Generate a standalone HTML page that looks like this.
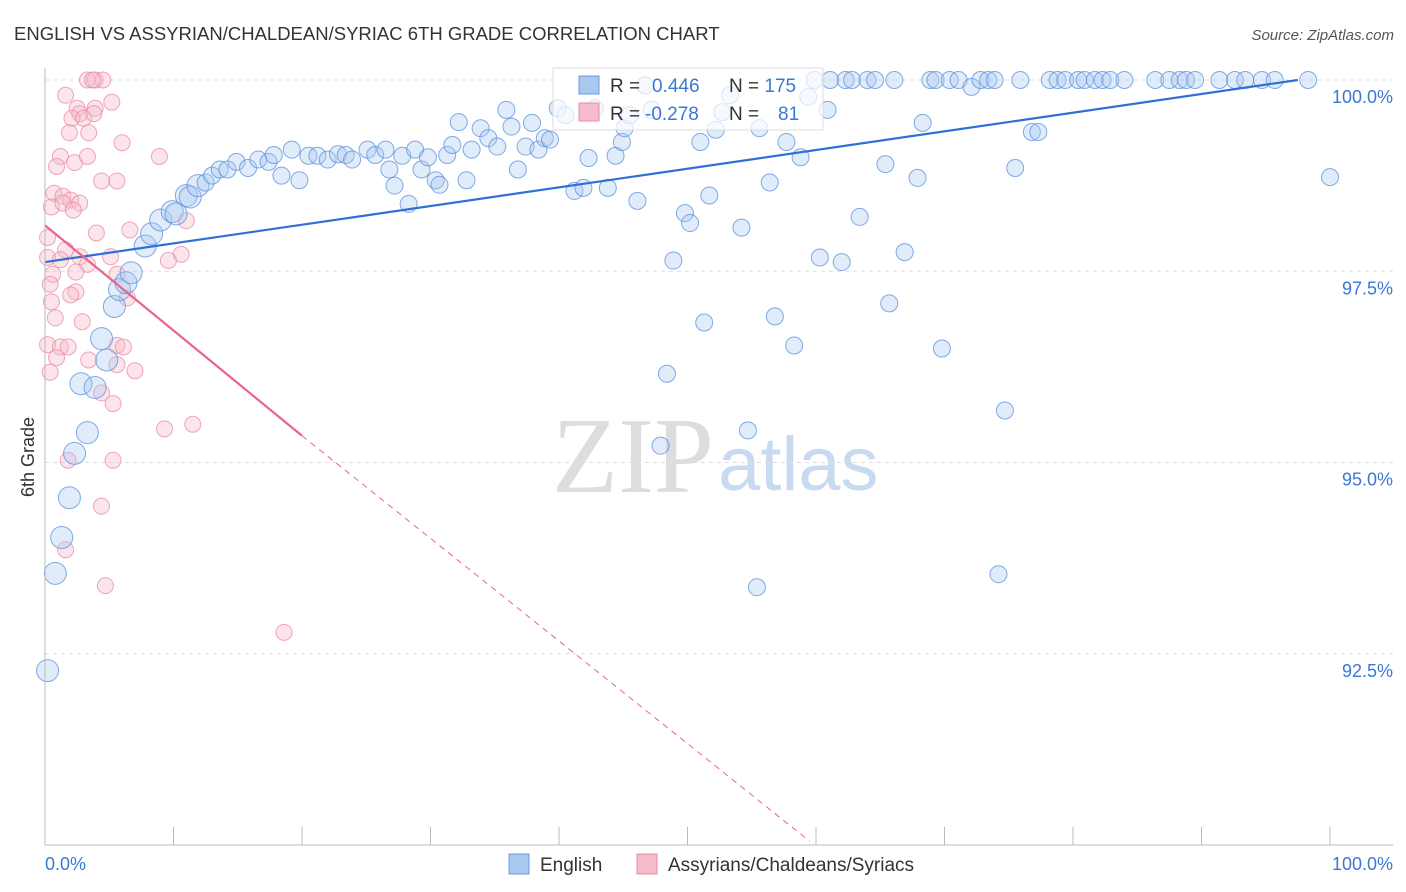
<!DOCTYPE html>
<html><head><meta charset="utf-8">
<style>
body{margin:0;background:#fff;font-family:"Liberation Sans",sans-serif;}
#wrap{position:relative;width:1406px;height:892px;overflow:hidden;}
</style></head>
<body>
<div id="wrap">
<svg id="chart" width="1406" height="892" style="position:absolute;left:0;top:0">
<text x="14" y="40" font-size="18.5" fill="#333">ENGLISH VS ASSYRIAN/CHALDEAN/SYRIAC 6TH GRADE CORRELATION CHART</text>
<text x="1394" y="40" font-size="15" fill="#555" text-anchor="end" font-style="italic">Source: ZipAtlas.com</text>
<text x="714" y="492" font-size="108" fill="#ddd" text-anchor="end" font-family="Liberation Serif, serif">ZIP</text>
<text x="718" y="490" font-size="76" fill="#c9daf0">atlas</text>
<g id="grid"></g>
<g id="pts"></g>
<g id="trend"></g>
<line x1="45" y1="68" x2="45" y2="845" stroke="#bbb"/>
<line x1="45" y1="845" x2="1393" y2="845" stroke="#bbb"/>
<text transform="translate(34,457) rotate(-90)" font-size="18" fill="#333" text-anchor="middle">6th Grade</text>
<text x="45" y="870" font-size="18" fill="#3b78d6">0.0%</text>
<text x="1393" y="870" font-size="18" fill="#3b78d6" text-anchor="end">100.0%</text>
<g>
<rect x="553" y="68" width="270" height="62" fill="#fff" fill-opacity="0.7" stroke="#ddd"/>
<rect x="579" y="76" width="20" height="18" fill="#a9c8f0" stroke="#6a9be0"/>
<rect x="579" y="103" width="20" height="18" fill="#f6bccb" stroke="#ea8aa5"/>
<text x="610" y="92" font-size="19" fill="#333">R = <tspan fill="#3b78d6" x="652">0.446</tspan><tspan x="729" fill="#333">N = </tspan><tspan fill="#3b78d6">175</tspan></text>
<text x="610" y="120" font-size="19" fill="#333">R = <tspan fill="#3b78d6" x="645">-0.278</tspan><tspan x="729" fill="#333">N = </tspan><tspan fill="#3b78d6" x="778">81</tspan></text>
</g>
<g>
<rect x="509" y="854" width="20" height="20" fill="#a9c8f0" stroke="#6a9be0"/>
<text x="540" y="871" font-size="19" fill="#333">English</text>
<rect x="637" y="854" width="20" height="20" fill="#f6bccb" stroke="#ea8aa5"/>
<text x="668" y="871" font-size="19" fill="#333">Assyrians/Chaldeans/Syriacs</text>
</g>
</svg>
</div>
<script>
const yTicks=[100,97.5,95,92.5];
const yTickLabels=["100.0%","97.5%","95.0%","92.5%"];
const xTicks=[0,10,20,30,40,50,60,70,80,90,100];
const englishX=[0.2,0.8,1.3,1.9,2.3,3.3,2.8,3.9,4.8,4.4,5.4,5.8,6.3,6.7,7.8,8.3,9.0,9.9,10.2,11.0,11.3,11.9,12.5,13.0,13.6,14.2,14.9,15.8,16.6,17.4,17.8,18.4,19.2,19.8,20.5,21.2,22.0,22.8,23.4,23.9,25.1,25.7,26.5,26.8,27.2,27.8,28.3,28.8,29.3,29.8,30.4,30.7,31.3,31.7,32.2,32.8,33.2,33.9,34.5,35.2,35.9,36.3,36.8,37.4,37.9,38.4,38.9,39.3,39.9,40.5,41.2,41.9,42.3,42.8,43.8,44.4,44.9,45.1,45.5,46.1,46.7,47.2,47.9,48.4,48.9,49.8,50.2,51.0,51.3,51.7,52.2,52.7,53.3,54.2,54.7,55.4,55.6,56.4,56.8,57.7,58.3,58.8,59.4,59.9,60.3,60.9,61.1,62.0,62.3,62.8,63.4,64.0,64.6,65.4,65.7,66.1,66.9,67.9,68.3,68.9,69.3,69.8,70.4,71.1,72.1,72.8,73.4,73.9,74.2,74.7,75.5,75.9,76.8,77.3,78.2,78.8,79.4,80.4,80.9,81.7,82.3,82.9,84.0,86.4,87.5,88.3,88.8,89.5,91.4,92.6,93.4,94.7,95.7,98.3,100];
const englishY=[92.28,93.55,94.02,94.54,95.12,95.39,96.03,95.98,96.34,96.62,97.04,97.26,97.35,97.48,97.83,97.99,98.17,98.28,98.25,98.49,98.47,98.62,98.66,98.75,98.83,98.83,98.93,98.85,98.96,98.93,99.02,98.75,99.09,98.69,99.01,99.01,98.96,99.03,99.02,98.96,99.09,99.02,99.09,98.83,98.62,99.01,98.38,99.09,98.83,98.99,98.69,98.63,99.02,99.15,99.45,98.69,99.09,99.37,99.24,99.13,99.61,99.39,98.83,99.13,99.44,99.09,99.24,99.22,99.63,99.54,98.55,98.59,98.98,99.63,98.59,99.01,99.19,99.37,99.54,98.42,99.93,99.61,95.22,96.16,97.64,98.26,98.13,99.19,96.83,98.49,99.35,99.58,99.80,98.07,95.42,93.37,99.37,98.66,96.91,99.19,96.53,98.99,99.78,100,97.68,99.61,100,97.62,100,100,98.21,100,100,98.90,97.08,100,97.75,98.72,99.44,100,100,96.49,100,100,99.91,100,100,100,93.54,95.68,98.85,100,99.32,99.32,100,100,100,100,100,100,100,100,100,100,100,100,100,100,100,100,100,100,100,100,98.73];
const assyrX=[3.3,3.9,4.5,3.7,1.6,2.5,2.7,3.9,5.2,2.1,3.0,3.8,1.9,3.4,6.0,1.2,2.3,3.3,8.9,0.9,4.4,5.6,0.7,1.4,2.0,2.7,0.5,1.4,2.2,6.6,4.0,11.0,0.2,1.6,0.2,1.2,2.7,5.1,10.6,9.6,3.3,0.6,2.4,5.6,0.4,2.4,2.0,6.4,0.5,0.8,2.9,0.2,1.2,1.8,5.6,6.1,0.9,3.4,5.6,7.0,0.4,4.4,5.3,9.3,11.5,1.8,5.3,4.4,1.6,4.7,18.6];
const assyrY=[100,100,100,100,99.80,99.63,99.56,99.63,99.71,99.50,99.50,99.56,99.31,99.31,99.18,99.0,98.92,99.0,99.0,98.87,98.68,98.68,98.52,98.48,98.43,98.39,98.34,98.39,98.30,98.04,98.0,98.16,97.94,97.78,97.68,97.65,97.69,97.69,97.72,97.64,97.59,97.46,97.49,97.46,97.33,97.23,97.19,97.15,97.10,96.89,96.84,96.54,96.51,96.51,96.53,96.51,96.37,96.34,96.28,96.20,96.18,95.91,95.77,95.44,95.50,95.03,95.03,94.43,93.86,93.39,92.78];
const englishTrend=[0,97.62,97.5,100];
const assyrTrend=[0,98.1,20,95.35,59.5,90.05];

const X=v=>45+v*12.85;
const Y=v=>80+(100-v)*76.5;
const NS="http://www.w3.org/2000/svg";
function mk(tag,attrs,parent){const e=document.createElementNS(NS,tag);for(const k in attrs)e.setAttribute(k,attrs[k]);parent.appendChild(e);return e;}
const grid=document.getElementById('grid');
yTicks.forEach((t,i)=>{
  const l=mk('line',{x1:45,x2:1393,y1:Y(t),y2:Y(t),stroke:'#ddd','stroke-dasharray':'4,4'},grid);
  
  
  const tx=mk('text',{x:1393,y:Y(t)+23,'font-size':18,fill:'#3b78d6','text-anchor':'end'},grid);
  tx.textContent=yTickLabels[i];
  
  
});
xTicks.forEach(t=>{
  const l=mk('line',{x1:X(t),x2:X(t),y1:827,y2:845,stroke:'#bbb'},grid);
  
  
});
const pts=document.getElementById('pts');
assyrX.forEach((x,i)=>{
  const c=mk('circle',{cx:X(x),cy:Y(assyrY[i]),r:8,fill:'#f6bccb','fill-opacity':0.4,stroke:'#ea8aa5','stroke-opacity':0.75},pts);
  
  
});
englishX.forEach((x,i)=>{
  const r=x<12?11:8.5;
  const c=mk('circle',{cx:X(x),cy:Y(englishY[i]),r:r,fill:'#a9c8f0','fill-opacity':0.35,stroke:'#5a8fdc','stroke-opacity':0.75},pts);
  
  
});
const tr=document.getElementById('trend');
const bl=mk('line',{x1:X(englishTrend[0]),y1:Y(englishTrend[1]),x2:X(englishTrend[2]),y2:Y(englishTrend[3]),stroke:'#2f6fd6','stroke-width':2.2},tr);


const pl=mk('line',{x1:X(assyrTrend[0]),y1:Y(assyrTrend[1]),x2:X(assyrTrend[2]),y2:Y(assyrTrend[3]),stroke:'#e8648f','stroke-width':2.2},tr);


const pd=mk('line',{x1:X(assyrTrend[2]),y1:Y(assyrTrend[3]),x2:X(assyrTrend[4]),y2:Y(assyrTrend[5]),stroke:'#e8648f','stroke-width':1,'stroke-dasharray':'6,5'},tr);


</script>
</body></html>
